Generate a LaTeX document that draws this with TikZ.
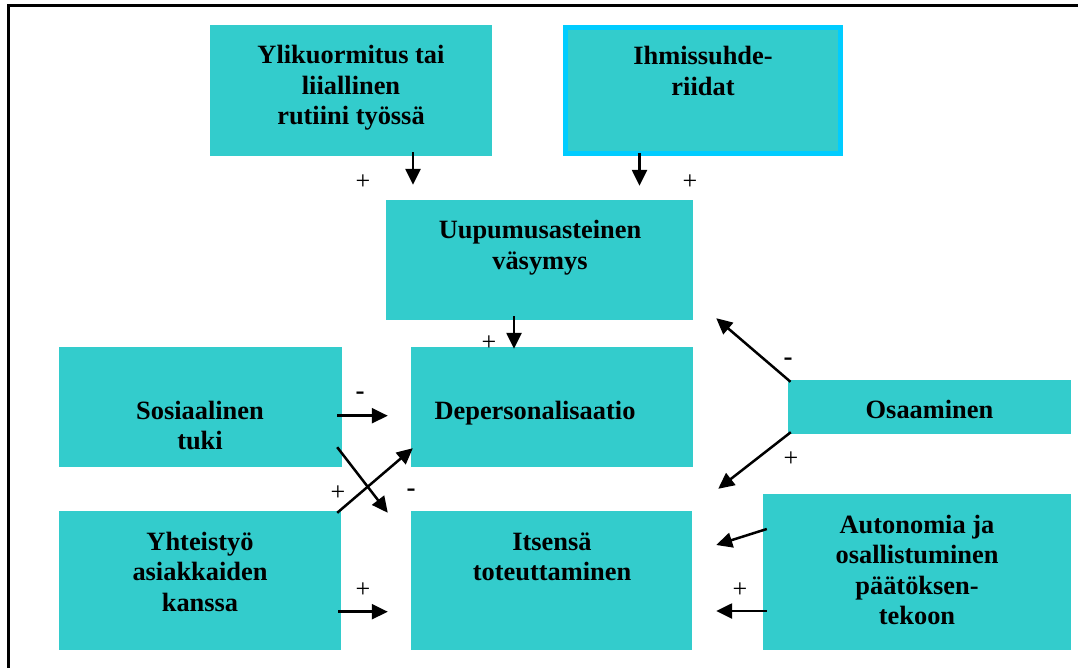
\documentclass[tikz,border=0pt]{standalone}
\usepackage{fontspec}
\setmainfont{Liberation Serif}
\usetikzlibrary{arrows.meta,calc}
\definecolor{boxteal}{HTML}{33CCCC}
\definecolor{edgecyan}{HTML}{00CCFF}
% centred block of lines whose first baseline is the node's base
\newcommand\boxtext[1]{\begin{tabular}[t]{@{}c@{}}#1\end{tabular}}

\begin{document}
\begin{tikzpicture}[x=1pt,y=-1pt,
  box/.style={rectangle, fill=boxteal, draw=none, inner sep=0pt},
  lbl/.style={anchor=base, inner sep=0pt, font=\fontsize{26.4}{30.5}\selectfont\bfseries},
  plus/.style={inner sep=0pt, font=\fontsize{26}{26}\selectfont},
  minus/.style={inner sep=0pt, font=\fontsize{27}{27}\selectfont\bfseries},
  link/.style={line width=2.5pt, -{Triangle[length=16pt,width=15pt]}},
]
\useasboundingbox (0,0) rectangle (1078,668);

% outer frame (top and left edges)
\draw[line width=2.5pt] (8.5,668) -- (8.5,5.5) -- (1078,5.5);

% boxes
\node[box, minimum width=282pt, minimum height=131pt] (ylik) at (351,90.5) {};
\node[box, draw=edgecyan, line width=5pt, minimum width=275pt, minimum height=126pt] (ihm) at (703,90.5) {};
\node[box, minimum width=307pt, minimum height=120pt] (uup) at (539.5,260) {};
\node[box, minimum width=282pt, minimum height=120pt] (dep) at (552,407) {};
\node[box, minimum width=283pt, minimum height=120pt] (sos) at (200.5,407) {};
\node[box, minimum width=282pt, minimum height=139pt] (yht) at (200,580.5) {};
\node[box, minimum width=281pt, minimum height=139pt] (its) at (551.5,580.5) {};
\node[box, minimum width=283pt, minimum height=54pt] (osa) at (929.5,407) {};
\node[box, minimum width=308pt, minimum height=156pt] (aut) at (917,572) {};

% box texts
\node[lbl] (tylik) at (351,64) {\boxtext{Ylikuormitus tai\\liiallinen\\rutiini työssä}};
\node[lbl] (tihm) at (703,65) {\boxtext{Ihmissuhde-\\riidat}};
\node[lbl] (tuup) at (540,239) {\boxtext{Uupumusasteinen\\väsymys}};
\node[lbl] (tdep) at (535,419) {\boxtext{Depersonalisaatio}};
\node[lbl] (tsos) at (200,419) {\boxtext{Sosiaalinen\\tuki}};
\node[lbl] (tyht) at (200,550) {\boxtext{Yhteistyö\\asiakkaiden\\kanssa}};
\node[lbl] (tits) at (552,550) {\boxtext{Itsensä\\toteuttaminen}};
\node[lbl] (tosa) at (929.5,418) {\boxtext{Osaaminen}};
\node[lbl] (taut) at (917,533) {\boxtext{Autonomia ja\\osallistuminen\\päätöksen-\\tekoon}};

% connectors
\draw[link] ($(ylik.south)+(62,-4)$) -- ($(uup.north)+(-126.5,-15)$);
\draw[link] ($(ihm.south)+(-63.5,-3)$) -- ($(uup.north)+(100,-14)$);
\draw[link] ($(uup.south)+(-25.5,-4)$) -- ($(dep.north)+(-38,2)$);
\draw[link] ($(sos.east)+(-5,8.7)$) -- ($(dep.west)+(-23,8.7)$);
\draw[link] ($(sos.south east)+(-5,-20)$) -- ($(its.north west)+(-23,2)$);
\draw[link] ($(yht.north east)+(-4,2)$) -- ($(dep.south west)+(2,-19)$);
\draw[link] ($(yht.east)+(-3,31.2)$) -- ($(its.west)+(-23,31.2)$);
\draw[link] ($(osa.north west)+(2.7,2)$) -- ($(uup.south east)+(23,-2)$);
\draw[link] ($(osa.south west)+(3,-2)$) -- ($(its.north east)+(26,-22)$);
\draw[link] ($(aut.west)+(4,-43)$) -- ($(its.east)+(24,-35.5)$);
\draw[link] ($(aut.west)+(4,39)$) -- ($(its.east)+(24,30.5)$);

% signs
\node[plus] (p1) at (363,182) {+};
\node[plus] (p2) at (690,182) {+};
\node[plus] (p3) at (489,343) {+};
\node[minus] (m1) at (360,396) {-};
\node[minus] (m2) at (411,493) {-};
\node[plus] (p4) at (338,493) {+};
\node[plus] (p5) at (363,590) {+};
\node[minus] (m3) at (788,362) {-};
\node[plus] (p6) at (791,459) {+};
\node[plus] (p7) at (740,590) {+};
\end{tikzpicture}
\end{document}
